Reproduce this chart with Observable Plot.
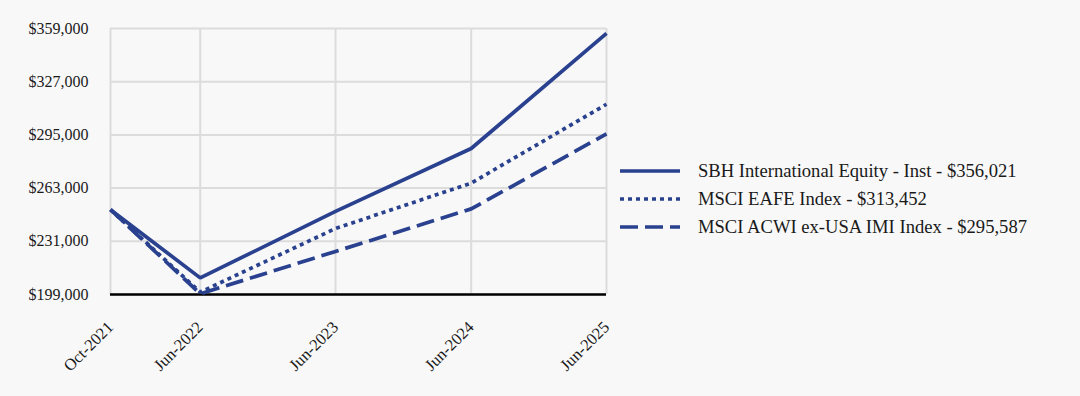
<!DOCTYPE html>
<html><head><meta charset="utf-8">
<script src="https://cdn.jsdelivr.net/npm/d3@7"></script>
<script src="https://cdn.jsdelivr.net/npm/@observablehq/plot@0.6"></script>
<style>
body{margin:0;background:#f8f8f8;font-family:"Liberation Serif","Times New Roman",serif;}
#wrap{position:relative;width:1080px;height:396px;}
#legend{position:absolute;left:620px;top:157px;}
.row{display:flex;align-items:center;height:28px;font-size:18.6px;color:#1a1a1a;white-space:nowrap;}
.row svg{margin-right:18px}
</style></head><body><div id="wrap"><div id="chart"></div><div id="legend"></div></div>
<script>
const dates = ["2021-10-31","2022-06-30","2023-06-30","2024-06-30","2025-06-30"];
const seriesNames = ["SBH International Equity - Inst - $356,021","MSCI EAFE Index - $313,452","MSCI ACWI ex-USA IMI Index - $295,587"];
const sbh  = [250000, 209000, 249000, 286800, 356021];
const eafe = [250000, 200400, 238700, 266000, 313452];
const acwi = [250000, 199400, 224900, 250500, 295587];
const yTicks = [199000, 231000, 263000, 295000, 327000, 359000];

const color = "#29418e";
const dashes = [null, "4,4", "18,7"];
const values = [sbh, eafe, acwi];
const parse = d3.utcParse("%Y-%m-%d");
const dateObjs = dates.map(parse);
const data = [];
values.forEach((vals, i) => vals.forEach((v, j) => data.push({series: seriesNames[i], date: dateObjs[j], value: v})));

const chart = Plot.plot({
  width: 620, height: 396,
  marginLeft: 110, marginRight: 14, marginTop: 28, marginBottom: 102,
  style: {background: "transparent", fontFamily: "'Liberation Serif', 'Times New Roman', serif", fontSize: "16px", color: "#1a1a1a"},
  x: {type: "utc", domain: d3.extent(dateObjs)},
  y: {domain: [199000, 359000]},
  marks: [
    Plot.gridY(yTicks, {stroke: "#dcdcdc", strokeOpacity: 1, strokeWidth: 2}),
    Plot.gridX(dateObjs, {stroke: "#dcdcdc", strokeOpacity: 1, strokeWidth: 2}),
    Plot.axisY(yTicks, {tickSize: 0, tickPadding: 22, label: null, tickFormat: d => "$" + d3.format(",")(d), fontSize: 16}),
    Plot.axisX(dateObjs, {tickSize: 0, tickPadding: 20, dy: 10, tickRotate: -45, label: null, tickFormat: d3.utcFormat("%b-%Y"), fontSize: 16.5}),
    Plot.ruleY([199000], {stroke: "black", strokeWidth: 2.5}),
    ...seriesNames.map((s, i) => Plot.line(data.filter(d => d.series === s), {x: "date", y: "value", stroke: color, strokeWidth: 3.7, strokeDasharray: dashes[i], strokeLinecap: "butt", strokeLinejoin: "miter"}))
  ]
});
document.getElementById("chart").appendChild(chart);

const legend = document.getElementById("legend");
seriesNames.forEach((s, i) => {
  const row = document.createElement("div");
  row.className = "row";
  row.innerHTML = `<svg width="60" height="6"><line x1="0" x2="60" y1="3" y2="3" stroke="${color}" stroke-width="3.7" ${dashes[i] ? `stroke-dasharray="${dashes[i]}"` : ""}/></svg><span>${s}</span>`;
  legend.appendChild(row);
});
</script></body></html>
